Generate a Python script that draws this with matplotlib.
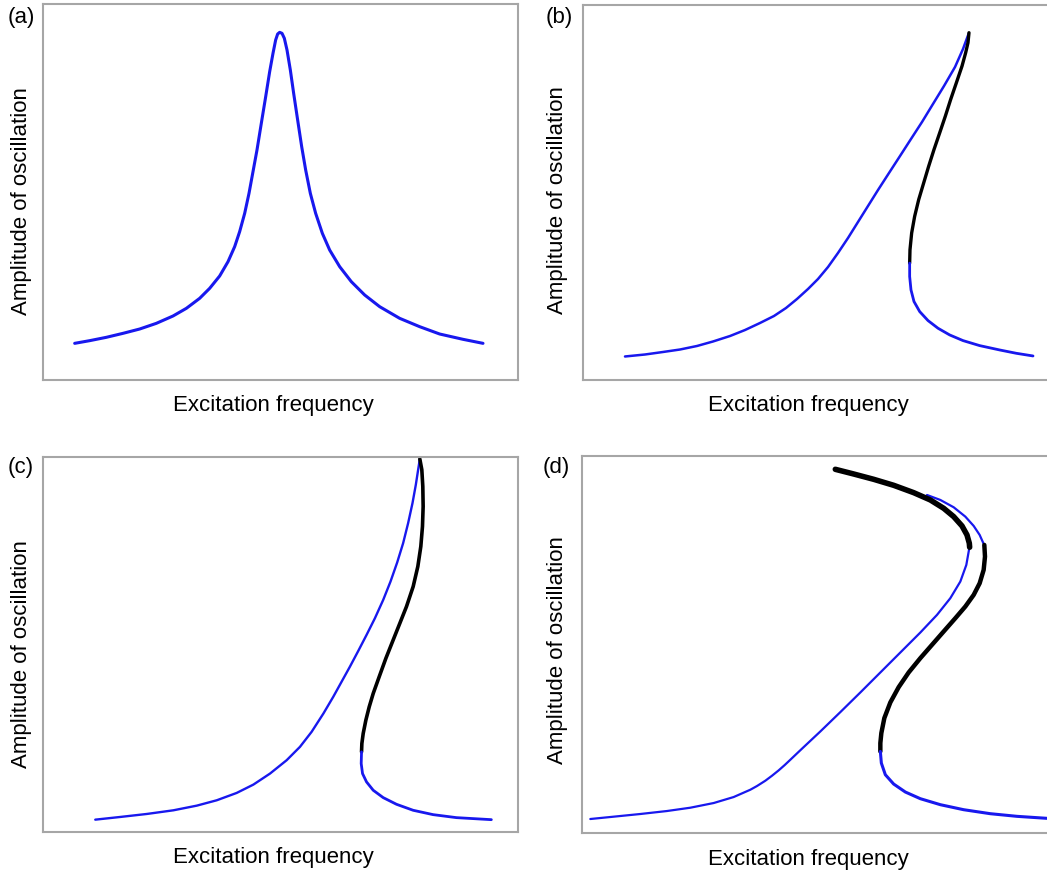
import matplotlib
matplotlib.use("Agg")
import matplotlib.pyplot as plt

plt.rcParams["font.family"] = ["Liberation Sans", "DejaVu Sans"]

W, H = 1047, 875
BLUE = "#1818ee"
BLACK = "#000000"

# frequency / amplitude pairs, arbitrary units (0-100 across each frame)
# (a) linear response
a_freq = [6.67, 9.82, 13.33, 16.84, 20.35, 23.86, 27.37, 30.18, 32.98, 35.09, 37.19,
          38.95, 40.35, 41.40, 42.46, 43.37, 44.21, 45.05, 45.96, 46.88, 47.72, 48.42,
          48.98, 49.40, 49.82, 50.32, 50.81, 51.37, 52.07, 52.77, 53.61, 54.46, 55.30,
          56.28, 57.40, 58.81, 60.35, 62.46, 64.91, 67.72, 70.88, 75.09, 79.30, 83.51,
          88.42, 92.63]
a_amp = [9.75, 10.46, 11.35, 12.41, 13.56, 15.07, 17.02, 19.06, 21.72, 24.38, 27.66,
         31.47, 35.46, 39.45, 44.33, 49.65, 55.41, 61.17, 68.26, 75.35, 82.00, 86.88,
         90.43, 92.02, 92.46, 92.20, 90.87, 87.77, 82.45, 76.24, 69.15, 62.06, 55.85,
         49.65, 44.33, 39.01, 34.57, 30.14, 26.15, 22.61, 19.50, 16.40, 14.18, 12.23,
         10.82, 9.75]

# (b) hardening, moderate forcing
b_up_freq = [8.84, 13.05, 16.84, 20.42, 24.00, 27.37, 30.95, 34.11, 37.26, 40.21, 42.74,
             45.05, 47.37, 49.47, 51.58, 53.68, 55.79, 57.89, 60.00, 62.11, 64.42, 66.74,
             69.05, 71.37, 73.68, 76.00, 78.32, 80.00, 81.20]
b_up_amp = [6.27, 6.80, 7.47, 8.13, 9.07, 10.27, 11.73, 13.33, 15.20, 17.07, 19.20,
            21.60, 24.27, 26.93, 30.13, 33.87, 37.87, 42.13, 46.40, 50.67, 55.20, 59.73,
            64.27, 68.80, 73.60, 78.40, 83.47, 88.27, 92.40]
b_unst_freq = [81.26, 81.05, 80.56, 79.79, 78.60, 77.40, 76.28, 75.09, 73.89, 72.77,
               71.72, 70.67, 69.82, 69.19, 68.84, 68.77]
b_unst_amp = [92.61, 89.94, 87.27, 83.70, 79.25, 74.80, 70.35, 65.89, 61.44, 56.99,
              52.54, 48.09, 43.63, 39.18, 34.73, 31.17]
b_lo_freq = [68.77, 68.77, 69.05, 69.68, 70.88, 72.63, 74.74, 77.19, 80.00, 83.51,
             87.72, 91.23, 94.74]
b_lo_amp = [31.17, 27.60, 24.04, 20.93, 18.25, 15.85, 13.80, 12.02, 10.51, 9.17,
            8.01, 7.12, 6.41]

# (c) hardening, stronger forcing
c_up_freq = [11.00, 16.26, 21.86, 27.47, 32.38, 36.58, 40.78, 44.29, 47.79, 51.30, 54.10,
             56.55, 59.04, 61.11, 62.86, 64.61, 66.36, 68.11, 69.87, 71.62, 73.16, 74.56,
             75.82, 76.87, 77.79, 78.49, 78.98, 79.33]
c_up_amp = [3.29, 4.01, 4.81, 5.79, 7.03, 8.46, 10.42, 12.64, 15.58, 19.15, 22.71,
            26.71, 31.61, 36.06, 40.07, 44.08, 48.26, 52.54, 56.99, 61.89, 66.79, 71.86,
            77.03, 82.37, 87.71, 92.61, 96.62, 99.47]
c_unst_freq = [79.33, 79.75, 79.96, 80.03, 79.89, 79.54, 78.91, 77.93, 76.52, 75.12,
               73.58, 72.18, 70.78, 69.52, 68.68, 67.97, 67.41, 67.13, 67.06]
c_unst_amp = [99.47, 96.62, 92.16, 86.82, 81.48, 76.14, 70.79, 65.45, 60.11, 55.65,
              50.76, 46.30, 41.41, 36.95, 33.39, 29.83, 26.27, 23.60, 21.37]
c_lo_freq = [67.06, 66.99, 67.27, 68.11, 69.52, 71.62, 74.42, 77.93, 82.13, 87.04, 94.39]
c_lo_amp = [21.37, 18.25, 15.58, 13.36, 11.13, 9.17, 7.39, 5.79, 4.63, 3.83, 3.29]

# (d) multi-valued response with two folds
d_main_freq = [1.75, 6.67, 12.28, 17.89, 22.81, 27.72, 31.93, 35.44, 36.84, 38.60, 40.00,
               41.40, 42.67, 43.86, 45.26, 46.67, 50.18, 54.39, 58.60, 62.81, 67.02,
               71.23, 74.74, 77.54, 79.65, 80.91, 81.47, 81.54]
d_main_amp = [3.71, 4.33, 5.04, 5.83, 6.71, 7.95, 9.54, 11.48, 12.46, 13.87, 15.19,
              16.61, 18.02, 19.43, 21.11, 22.79, 26.94, 32.07, 37.28, 42.58, 47.88,
              53.18, 57.86, 62.28, 66.70, 71.11, 75.09, 75.97]
d_top_freq = [53.33, 57.19, 61.40, 65.61, 69.82, 73.33, 76.14, 78.25, 80.00, 81.05,
              81.54, 81.61]
d_top_amp = [96.47, 95.23, 93.82, 92.23, 90.28, 88.34, 86.13, 83.92, 81.45, 79.06,
             76.86, 75.80]
d_outer_freq = [72.63, 75.44, 78.25, 80.70, 82.46, 83.72, 84.56]
d_outer_amp = [89.66, 88.34, 86.40, 83.92, 81.45, 79.06, 76.68]
d_unst_freq = [84.70, 84.84, 84.56, 83.72, 82.46, 80.70, 78.60, 76.14, 73.68, 71.23,
               68.77, 66.67, 64.91, 63.65, 63.02, 62.81, 62.81]
d_unst_amp = [76.41, 73.32, 69.79, 66.25, 63.16, 60.07, 56.98, 53.45, 49.91, 46.38,
              42.58, 38.69, 34.63, 30.48, 26.50, 23.85, 21.64]
d_lo_freq = [62.81, 63.02, 63.86, 65.61, 68.07, 71.23, 75.44, 80.35, 85.96, 91.58, 97.89]
d_lo_amp = [21.64, 18.55, 15.46, 12.99, 10.87, 9.10, 7.51, 6.18, 5.12, 4.42, 3.89]

panel_tags = ["(a)", "(b)", "(c)", "(d)"]
xlabel = "Excitation frequency"
ylabel = "Amplitude of oscillation"


def px_axes(fig, left, top, right, bottom):
    return fig.add_axes([left / W, 1 - bottom / H, (right - left) / W, (bottom - top) / H])


def frame(ax):
    ax.set_xlim(0, 100)
    ax.set_ylim(0, 100)
    ax.set_xticks([])
    ax.set_yticks([])
    for s in ax.spines.values():
        s.set_color("#a6a6a6")
        s.set_linewidth(1.5)


def line(ax, x, y, color, lw):
    ax.plot(x, y, color=color, lw=lw, solid_capstyle="round", solid_joinstyle="round")


fig = plt.figure(figsize=(W / 100, H / 100), dpi=100)

ax_a = px_axes(fig, 43, 4, 518, 380)
ax_b = px_axes(fig, 583, 5, 1058, 380)
ax_c = px_axes(fig, 43, 457, 518, 832)
ax_d = px_axes(fig, 582, 456, 1057, 833)
for ax in (ax_a, ax_b, ax_c, ax_d):
    frame(ax)

line(ax_a, a_freq, a_amp, BLUE, 2.2)

line(ax_b, b_up_freq, b_up_amp, BLUE, 1.8)
line(ax_b, b_unst_freq, b_unst_amp, BLACK, 2.4)
line(ax_b, b_lo_freq, b_lo_amp, BLUE, 2.0)

line(ax_c, c_up_freq, c_up_amp, BLUE, 1.7)
line(ax_c, c_unst_freq, c_unst_amp, BLACK, 2.6)
line(ax_c, c_lo_freq, c_lo_amp, BLUE, 2.0)

line(ax_d, d_main_freq, d_main_amp, BLUE, 1.6)
line(ax_d, d_outer_freq, d_outer_amp, BLUE, 1.6)
line(ax_d, d_top_freq, d_top_amp, BLACK, 4.0)
line(ax_d, d_unst_freq, d_unst_amp, BLACK, 3.2)
line(ax_d, d_lo_freq, d_lo_amp, BLUE, 2.2)

# panel tags and axis titles, placed in pixel positions
tag_pos = [(8, 17), (546, 17), (8, 468), (543, 467)]
xlab_pos = [(273, 405), (808, 405), (273, 858), (808, 860)]
ylab_pos = [(22, 201), (557, 200), (22, 654), (557, 650)]
for tag, (tx, ty), (xx, xy), (yx, yy) in zip(panel_tags, tag_pos, xlab_pos, ylab_pos):
    fig.text(tx / W, 1 - ty / H, tag, fontsize=16, ha="left", va="center")
    fig.text(xx / W, 1 - xy / H, xlabel, fontsize=16, ha="center", va="center")
    fig.text(yx / W, 1 - yy / H, ylabel, fontsize=16, ha="center", va="center", rotation=90)

fig.savefig("out.png", dpi=100)
plt.close(fig)
